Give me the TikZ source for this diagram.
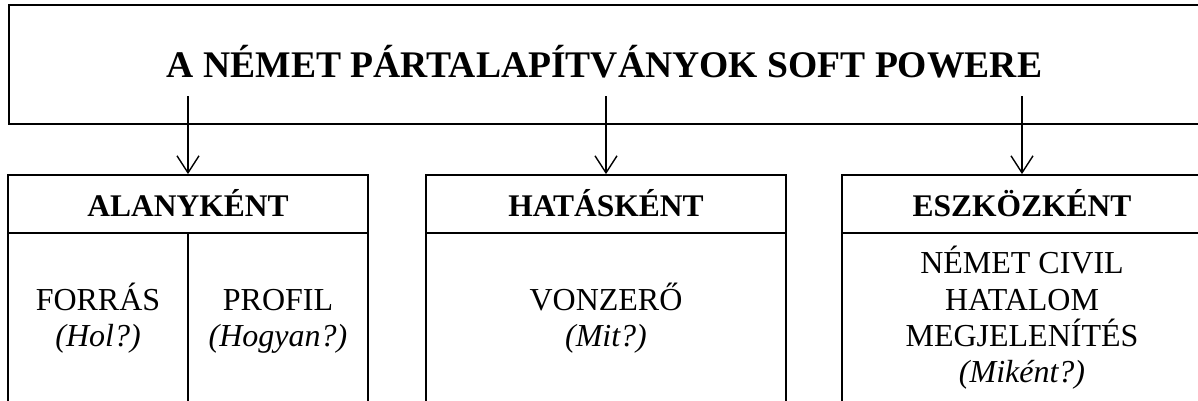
\documentclass[tikz,border=0pt]{standalone}
\usepackage{fontspec}
\setmainfont{Liberation Serif}
\usetikzlibrary{arrows.meta}
\begin{document}
\begin{tikzpicture}[x=1pt,y=-1pt,
  box/.style={draw, line width=1.8pt, inner sep=0pt, rectangle},
  rule/.style={line width=1.8pt},
  arr/.style={line width=1.4pt, -{Straight Barb[length=17pt,width=22pt,line width=1.4pt]}},
  ttl/.style={font=\fontsize{37.6}{44}\selectfont\bfseries, anchor=base, inner sep=0pt},
  hd/.style={font=\fontsize{31.5}{38}\selectfont\bfseries, anchor=base, inner sep=0pt},
  bd/.style={font=\fontsize{32}{37}\selectfont, anchor=base, inner sep=0pt},
  bi/.style={font=\fontsize{32}{37}\selectfont\itshape, anchor=base, inner sep=0pt}]
\useasboundingbox (0,0) rectangle (1198,400);
% title box
\node[box, minimum width=1191pt, minimum height=119pt] (top) at (604.5,64.5) {};
\node[ttl] (title) at (604.5,77) {A NÉMET PÁRTALAPÍTVÁNYOK SOFT POWERE};
% three boxes
\node[box, minimum width=360pt, minimum height=240pt] (b1) at (188,295) {};
\node[box, minimum width=360pt, minimum height=240pt] (b2) at (606,295) {};
\node[box, minimum width=360pt, minimum height=240pt] (b3) at (1022,295) {};
\coordinate (hy) at (0,233);
\coordinate (ay) at (0,96);
\draw[rule] (b1.west |- hy) -- (b1.east |- hy);
\draw[rule] (b2.west |- hy) -- (b2.east |- hy);
\draw[rule] (b3.west |- hy) -- (b3.east |- hy);
\draw[rule] (b1.center |- hy) -- (b1.south);
% arrows
\draw[arr] (b1.north |- ay) -- (b1.north);
\draw[arr] (b2.north |- ay) -- (b2.north);
\draw[arr] (b3.north |- ay) -- (b3.north);
% headings
\node[hd] (h1) at (188,216) {ALANYKÉNT};
\node[hd] (h2) at (606,216) {HATÁSKÉNT};
\node[hd] (h3) at (1022,216) {ESZKÖZKÉNT};
% body texts
\node[bd] (t1a) at (98,310) {FORRÁS};
\node[bi] (t1b) at (98,346) {(Hol?)};
\node[bd] (t2a) at (278,310) {PROFIL};
\node[bi] (t2b) at (278,346) {(Hogyan?)};
\node[bd] (t3a) at (606,310) {VONZERŐ};
\node[bi] (t3b) at (606,346) {(Mit?)};
\node[bd] (t4a) at (1022,273) {NÉMET CIVIL};
\node[bd] (t4b) at (1022,310) {HATALOM};
\node[bd] (t4c) at (1022,346) {MEGJELENÍTÉS};
\node[bi] (t4d) at (1022,382) {(Miként?)};
\end{tikzpicture}
\end{document}
